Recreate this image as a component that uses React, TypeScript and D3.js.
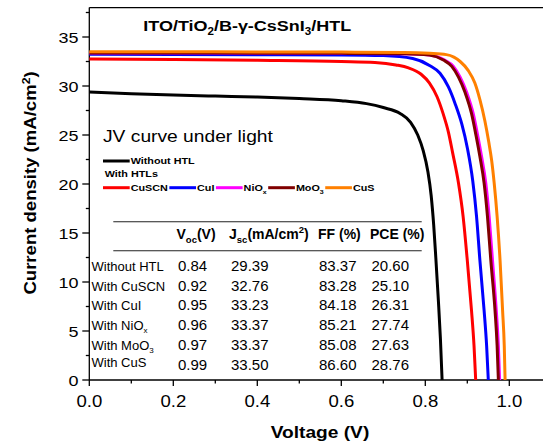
import React, { useMemo } from "react";
import * as d3 from "d3";

// ---------- data ----------
const seriesNames = ["Without HTL", "CuSCN", "CuI", "NiO", "MoO", "CuS"];
const seriesSubs = ["", "", "", "x", "3", ""];
const seriesColors = ["#000000", "#ff0000", "#0000ff", "#ff00ff", "#800000", "#ff8000"];

const withoutHTL: [number, number][] = [
  [0, 29.39], [0.1, 29.22], [0.2, 29.08], [0.3, 28.97], [0.4, 28.87], [0.5, 28.72], [0.6, 28.5],
  [0.66, 28.2], [0.7, 27.8], [0.74, 27.2], [0.765, 26.3], [0.782, 25.0], [0.795, 23.4], [0.806, 21.3],
  [0.814, 18.8], [0.82, 15.8], [0.825, 12.5], [0.831, 8.2], [0.836, 4.2], [0.84, 0],
];
const cuSCN: [number, number][] = [
  [0, 32.76], [0.2, 32.7], [0.4, 32.62], [0.6, 32.5], [0.68, 32.4], [0.73, 32.15], [0.76, 31.85],
  [0.79, 31.2], [0.81, 30.3], [0.828, 28.9], [0.843, 27.1], [0.855, 25.3], [0.865, 23.2], [0.879, 20.1],
  [0.89, 16.7], [0.9, 12.2], [0.91, 7.1], [0.916, 3.5], [0.92, 0],
];
const cuI: [number, number][] = [
  [0, 33.23], [0.2, 33.22], [0.4, 33.2], [0.6, 33.17], [0.7, 33.1], [0.77, 32.8], [0.81, 32.1],
  [0.835, 31.3], [0.855, 29.9], [0.871, 28.2], [0.887, 26.1], [0.9, 23.7], [0.913, 20.3], [0.922, 16.7],
  [0.93, 12.2], [0.94, 7.1], [0.946, 3.5], [0.95, 0],
];
const niOx: [number, number][] = [
  [0, 33.37], [0.2, 33.36], [0.4, 33.35], [0.6, 33.33], [0.75, 33.29], [0.81, 33.17], [0.846, 32.65],
  [0.867, 32.0], [0.883, 30.9], [0.899, 29.3], [0.914, 27.2], [0.925, 24.9], [0.934, 22.8], [0.944, 20.1],
  [0.952, 16.7], [0.96, 12.2], [0.969, 7.1], [0.974, 3.5], [0.977, 0],
];
const moO3: [number, number][] = [
  [0, 33.37], [0.2, 33.36], [0.4, 33.35], [0.6, 33.33], [0.75, 33.28], [0.81, 33.15], [0.843, 32.65],
  [0.863, 32.0], [0.879, 30.9], [0.895, 29.3], [0.91, 27.2], [0.921, 24.9], [0.93, 22.8], [0.94, 20.1],
  [0.948, 16.7], [0.956, 12.2], [0.966, 7.1], [0.971, 3.5], [0.974, 0],
];
const cuS: [number, number][] = [
  [0, 33.5], [0.2, 33.49], [0.4, 33.48], [0.6, 33.46], [0.75, 33.42], [0.81, 33.33], [0.85, 33.2],
  [0.868, 32.95], [0.883, 32.5], [0.902, 31.6], [0.918, 30.3], [0.93, 28.6], [0.942, 26.4], [0.951, 24.3],
  [0.958, 22.4], [0.964, 20.1], [0.971, 16.7], [0.978, 12.2], [0.984, 7.1], [0.988, 3.5], [0.99, 0],
];
const seriesData = [withoutHTL, cuSCN, cuI, niOx, moO3, cuS];

const xTicks = [0, 0.2, 0.4, 0.6, 0.8, 1.0];
const xMinor = [0.1, 0.3, 0.5, 0.7, 0.9, 1.1];
const yTicks = [0, 5, 10, 15, 20, 25, 30, 35];
const yMinor = [2.5, 7.5, 12.5, 17.5, 22.5, 27.5, 32.5, 37.5];

const tableRowLabels = ["Without HTL", "With CuSCN", "With CuI", "With NiO", "With MoO", "With CuS"];
const tableRowSubs = ["", "", "", "x", "3", ""];
const tableVoc = ["0.84", "0.92", "0.95", "0.96", "0.97", "0.99"];
const tableJsc = ["29.39", "32.76", "33.23", "33.37", "33.37", "33.50"];
const tableFF = ["83.37", "83.28", "84.18", "85.21", "85.08", "86.60"];
const tablePCE = ["20.60", "25.10", "26.31", "27.74", "27.63", "28.76"];

// ---------- layout ----------
const W = 543, H = 445;
const FONT = "'Liberation Sans', Arial, Helvetica, sans-serif";
const SX = 1.16;
const left = 89.3, right = 543, top = 7.6, bottom = 380;

const x = d3.scaleLinear().domain([0, 1]).range([left, left + 420]);
const y = d3.scaleLinear().domain([0, 38]).range([bottom, top]);

function ST({ x, y, size, weight = "normal", anchor = "start", rotate = 0, sx = SX, children }: any) {
  return (
    <text
      transform={`translate(${x},${y})${rotate ? ` rotate(${rotate})` : ""} scale(${sx},1)`}
      fontSize={size}
      fontWeight={weight}
      textAnchor={anchor}
      fontFamily={FONT}
      fill="#000"
    >
      {children}
    </text>
  );
}

let ctx: CanvasRenderingContext2D | null = null;
function measure(t: string, size: number, weight: string) {
  if (!ctx) ctx = document.createElement("canvas").getContext("2d");
  if (!ctx) return t.length * size * 0.6;
  ctx.font = `${weight} ${size}px ${FONT}`;
  return ctx.measureText(t).width;
}

export default function App() {
  const line = d3
    .line<[number, number]>()
    .x((d) => x(d[0]))
    .y((d) => y(d[1]))
    .curve(d3.curveMonotoneX);

  const legSize = 9.3;
  const legendRow = useMemo(() => {
    const items: any[] = [];
    let cx = 103;
    for (let i = 1; i < seriesNames.length; i++) {
      const w =
        (measure(seriesNames[i], legSize, "bold") + (seriesSubs[i] ? measure(seriesSubs[i], legSize * 0.65, "bold") : 0)) * SX;
      items.push({ i, x0: cx, x1: cx + 26.7, tx: cx + 27.7 });
      cx = cx + 27.7 + w + 1.5;
    }
    return items;
  }, []);

  const rowY = (i: number) => 271 + i * 19.7;

  return (
    <svg
      width={W}
      height={H}
      style={{ position: "absolute", left: 0, top: 0, background: "#fff", display: "block" }}
    >
      <rect x={0} y={0} width={W} height={H} fill="#fff" />
      {/* frame */}
      <line x1={left} x2={right} y1={top} y2={top} stroke="#000" strokeWidth={1.3} />
      <line x1={left} x2={left} y1={top} y2={bottom} stroke="#000" strokeWidth={1.3} />
      <line x1={left} x2={right} y1={bottom} y2={bottom} stroke="#000" strokeWidth={1.3} />

      {/* x ticks */}
      {xTicks.map((t) => (
        <g key={"xt" + t}>
          <line x1={x(t)} x2={x(t)} y1={bottom} y2={bottom + 6} stroke="#000" strokeWidth={1.3} />
          <ST x={x(t)} y={406.5} size={16} anchor="middle">
            {t.toFixed(1)}
          </ST>
        </g>
      ))}
      {xMinor.filter((t) => x(t) < right).map((t) => (
        <line key={"xm" + t} x1={x(t)} x2={x(t)} y1={bottom} y2={bottom + 3.5} stroke="#000" strokeWidth={1.3} />
      ))}
      {/* y ticks */}
      {yTicks.map((t) => (
        <g key={"yt" + t}>
          <line x1={left - 7} x2={left} y1={y(t)} y2={y(t)} stroke="#000" strokeWidth={1.3} />
          <ST x={78.5} y={y(t) + 5.6} size={15.5} anchor="end">
            {t}
          </ST>
        </g>
      ))}
      {yMinor.map((t) => (
        <line key={"ym" + t} x1={left - 3.5} x2={left} y1={y(t)} y2={y(t)} stroke="#000" strokeWidth={1.3} />
      ))}

      {/* axis labels */}
      <ST x={36} y={183} size={16} weight="bold" anchor="middle" rotate={-90}>
        Current density (mA/cm
        <tspan fontSize={10.5} dy={-6}>2</tspan>
        <tspan dy={6}>)</tspan>
      </ST>
      <ST x={320} y={438} size={16.5} weight="bold" anchor="middle">
        Voltage (V)
      </ST>

      {/* curves */}
      {seriesData.map((d, i) => (
        <path key={"c" + i} d={line(d) || ""} fill="none" stroke={seriesColors[i]} strokeWidth={3} strokeLinejoin="round" />
      ))}

      {/* title */}
      <ST x={143.3} y={31} size={15.5} weight="bold">
        ITO/TiO
        <tspan fontSize={10} dy={4}>2</tspan>
        <tspan dy={-4}>/B-γ-CsSnI</tspan>
        <tspan fontSize={10} dy={4}>3</tspan>
        <tspan dy={-4}>/HTL</tspan>
      </ST>

      <ST x={103} y={141.7} size={16.3} sx={1.18}>
        JV curve under light
      </ST>

      {/* legend */}
      <line x1={103} x2={129.7} y1={161} y2={161} stroke={seriesColors[0]} strokeWidth={3} />
      <ST x={130.7} y={164.4} size={legSize} weight="bold">
        {seriesNames[0]}
      </ST>
      <ST x={104.7} y={176.7} size={legSize} weight="bold">
        With HTLs
      </ST>
      {legendRow.map((it: any) => (
        <g key={"lg" + it.i}>
          <line x1={it.x0} x2={it.x1} y1={187.7} y2={187.7} stroke={seriesColors[it.i]} strokeWidth={3} />
          <ST x={it.tx} y={191.1} size={legSize} weight="bold">
            {seriesNames[it.i]}
            {seriesSubs[it.i] ? <tspan fontSize={legSize * 0.65} dy={2.5}>{seriesSubs[it.i]}</tspan> : null}
          </ST>
        </g>
      ))}

      {/* table */}
      <line x1={113.3} x2={421.7} y1={221.7} y2={221.7} stroke="#222" strokeWidth={1.1} />
      <line x1={113.3} x2={421.7} y1={250.7} y2={250.7} stroke="#222" strokeWidth={1.1} />
      <g fontFamily={FONT} fontWeight="bold" fontSize={14} fill="#000">
        <text x={176.5} y={239}>
          V<tspan fontSize={9.5} dy={4}>oc</tspan>
          <tspan dy={-4}>(V)</tspan>
        </text>
        <text x={229} y={239}>
          J<tspan fontSize={9.5} dy={4}>sc</tspan>
          <tspan dy={-4}>(mA/cm</tspan>
          <tspan fontSize={9.5} dy={-6}>2</tspan>
          <tspan dy={6}>)</tspan>
        </text>
        <text x={318} y={239}>FF (%)</text>
        <text x={370} y={239}>PCE (%)</text>
      </g>
      <g fontFamily={FONT} fill="#000">
        {tableRowLabels.map((lab, i) => (
          <text key={"rl" + i} x={91.5} y={rowY(i) - (i === 5 ? 2.5 : 0)} fontSize={13}>
            {lab}
            {tableRowSubs[i] ? <tspan fontSize={8} dy={3}>{tableRowSubs[i]}</tspan> : null}
          </text>
        ))}
        {tableVoc.map((v, i) => (
          <text key={"v" + i} x={178} y={rowY(i)} fontSize={15}>{v}</text>
        ))}
        {tableJsc.map((v, i) => (
          <text key={"j" + i} x={231} y={rowY(i)} fontSize={15}>{v}</text>
        ))}
        {tableFF.map((v, i) => (
          <text key={"f" + i} x={319} y={rowY(i)} fontSize={15}>{v}</text>
        ))}
        {tablePCE.map((v, i) => (
          <text key={"p" + i} x={371.5} y={rowY(i)} fontSize={15}>{v}</text>
        ))}
      </g>
    </svg>
  );
}
